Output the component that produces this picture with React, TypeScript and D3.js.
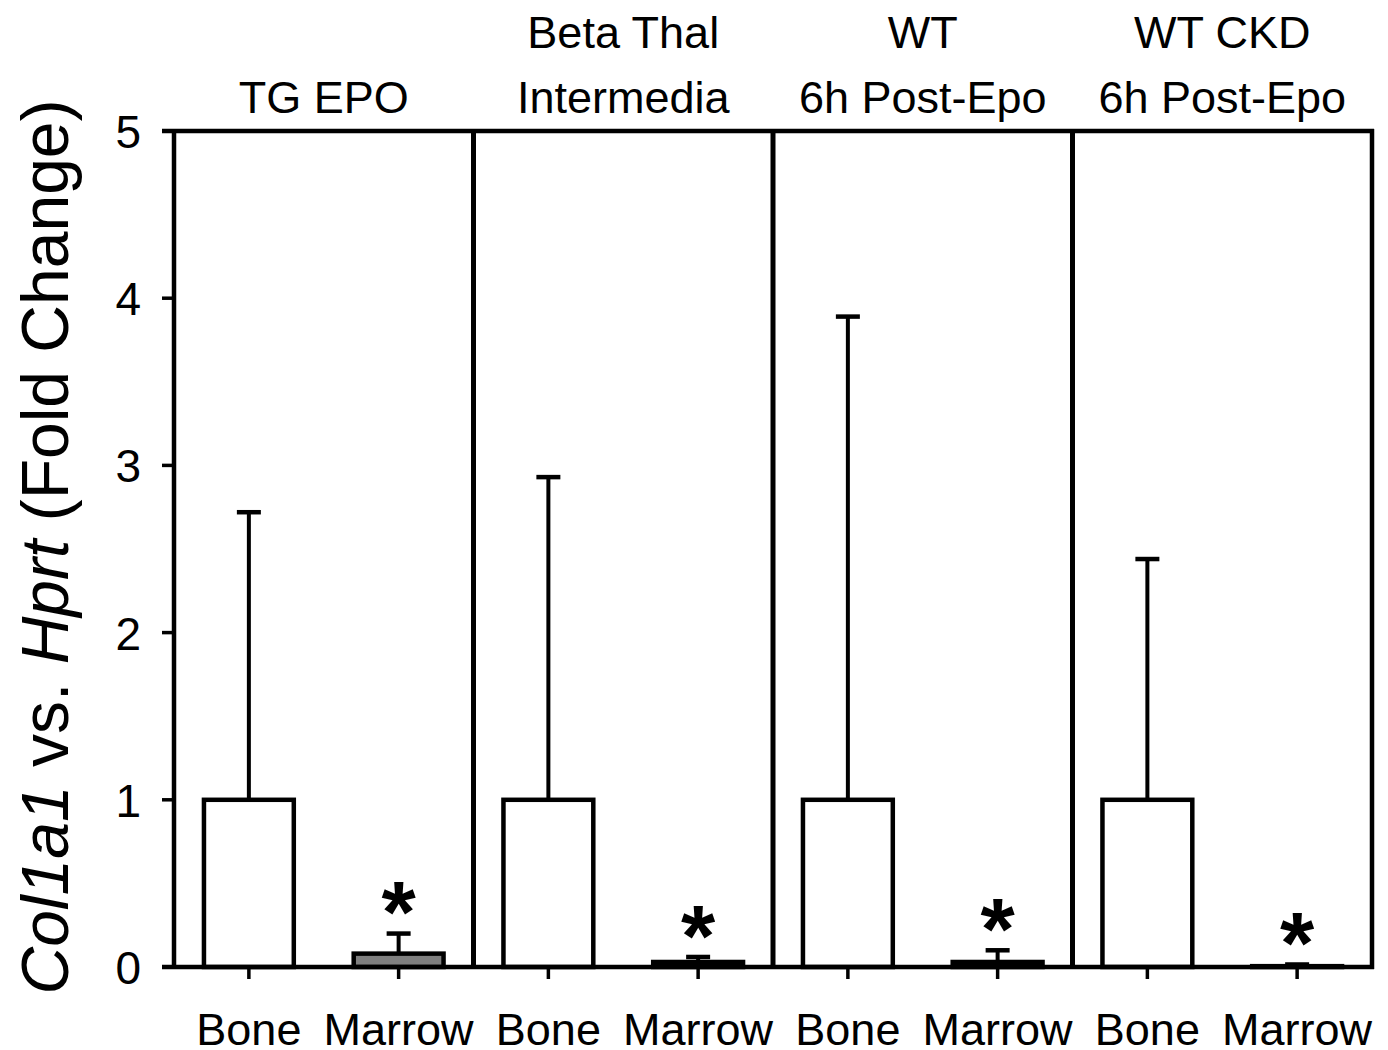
import React from "react";
import * as d3 from "d3";

const groups = ["TG EPO", "Beta Thal\nIntermedia", "WT\n6h Post-Epo", "WT CKD\n6h Post-Epo"];
const tissues = ["Bone", "Marrow"];
const boneMeans = [1, 1, 1, 1];
const boneErrors = [1.72, 1.93, 2.89, 1.44];
const marrowMeans = [0.08, 0.03, 0.03, 0.005];
const marrowErrors = [0.12, 0.03, 0.07, 0.01];
const marrowFills = ["#808080", "#000000", "#000000", "#000000"];
const yTicks = [0, 1, 2, 3, 4, 5];

const W = 1388;
const H = 1050;
const left = 174;
const right = 1372;
const top = 131;
const bottom = 967;
const font = "'Liberation Sans', Arial, Helvetica, sans-serif";

export default function App() {
  const y = d3.scaleLinear().domain([0, 5]).range([bottom, top]);
  const gx = d3.scaleBand().domain(groups).range([left, right]).paddingInner(0).paddingOuter(0);
  const tx = d3.scaleBand().domain(tissues).range([0, gx.bandwidth()]).padding(0.4).paddingOuter(0.2);

  const bars = groups.flatMap((g, i) => [
    { g, i, t: "Bone", mean: boneMeans[i], err: boneErrors[i], fill: "#ffffff" },
    { g, i, t: "Marrow", mean: marrowMeans[i], err: marrowErrors[i], fill: marrowFills[i] },
  ]);

  const capW = 24;
  const astFs = 88;

  return (
    <svg width={W} height={H} style={{ position: "absolute", left: 0, top: 0, background: "#fff" }}>
      {/* bars */}
      {bars.map((b, k) => {
        const x0 = (gx(b.g) as number) + (tx(b.t) as number);
        const bw = tx.bandwidth();
        const cx = x0 + bw / 2;
        const yt = y(b.mean);
        const ye = y(b.mean + b.err);
        return (
          <g key={k}>
            <line x1={cx} x2={cx} y1={yt} y2={ye} stroke="#000" strokeWidth={4} />
            <line x1={cx - capW / 2} x2={cx + capW / 2} y1={ye} y2={ye} stroke="#000" strokeWidth={4.5} />
            <rect x={x0} y={yt} width={bw} height={Math.max(bottom - yt, 0)} fill={b.fill} stroke="#000" strokeWidth={4.5} />
            {b.t === "Marrow" && (
              <text x={cx} y={ye - 15 + 0.27 * astFs} textAnchor="middle" fontFamily={font} fontWeight="bold" fontSize={astFs}>*</text>
            )}
          </g>
        );
      })}
      {/* panel dividers */}
      {groups.slice(1).map((g, i) => (
        <line key={i} x1={gx(g) as number} x2={gx(g) as number} y1={top} y2={bottom} stroke="#000" strokeWidth={5} />
      ))}
      {/* frame */}
      <line x1={left} x2={left} y1={top - 2} y2={bottom + 2} stroke="#000" strokeWidth={4.5} />
      <line x1={right} x2={right} y1={top - 2} y2={bottom + 2} stroke="#000" strokeWidth={4.5} />
      <line x1={left - 12} x2={right + 2} y1={top} y2={top} stroke="#000" strokeWidth={4.5} />
      <line x1={left - 12} x2={right + 2} y1={bottom} y2={bottom} stroke="#000" strokeWidth={4.5} />
      {/* y ticks */}
      {yTicks.map((t) => (
        <g key={t}>
          <line x1={left - 12} x2={left} y1={y(t)} y2={y(t)} stroke="#000" strokeWidth={3.5} />
          <text x={left - 33} y={y(t) + 17} textAnchor="end" fontFamily={font} fontSize={46}>{t}</text>
        </g>
      ))}
      {/* x ticks and labels */}
      {bars.map((b, k) => {
        const cx = (gx(b.g) as number) + (tx(b.t) as number) + tx.bandwidth() / 2;
        return (
          <g key={k}>
            <line x1={cx} x2={cx} y1={bottom} y2={bottom + 12} stroke="#000" strokeWidth={3.5} />
            <text x={cx} y={1045} textAnchor="middle" fontFamily={font} fontSize={45}>{b.t}</text>
          </g>
        );
      })}
      {/* group titles */}
      {groups.map((g) => {
        const cx = (gx(g) as number) + gx.bandwidth() / 2;
        const lines = g.split("\n");
        return (
          <text key={g} textAnchor="middle" fontFamily={font} fontSize={45}>
            {lines.map((l, j) => (
              <tspan key={j} x={cx} y={113 - (lines.length - 1 - j) * 65}>{l}</tspan>
            ))}
          </text>
        );
      })}
      {/* y title */}
      <text transform={`translate(68, ${(top + bottom) / 2 - 2}) rotate(-90)`} textAnchor="middle" fontFamily={font} fontSize={66}>
        <tspan fontStyle="italic">Col1a1</tspan>
        <tspan> vs. </tspan>
        <tspan fontStyle="italic">Hprt</tspan>
        <tspan> (Fold Change)</tspan>
      </text>
    </svg>
  );
}
